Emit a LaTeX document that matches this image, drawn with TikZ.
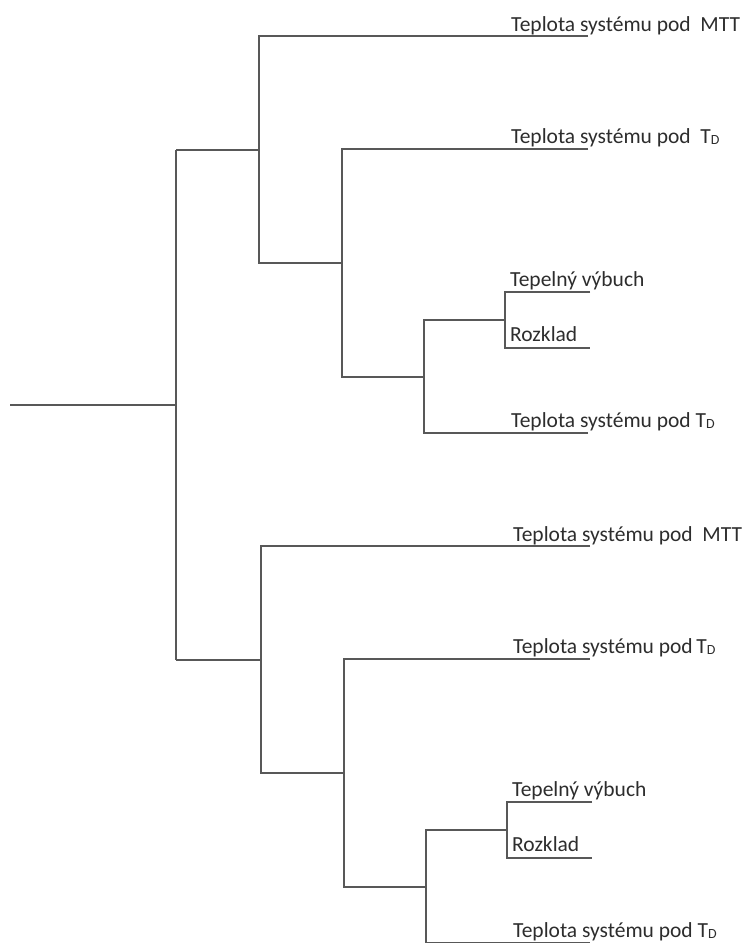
\documentclass[tikz,border=0pt]{standalone}
\usepackage{fontspec}
\setmainfont{Carlito}
\usepackage{xcolor}
\definecolor{branchgray}{RGB}{88, 88, 88}
\definecolor{labelgray}{RGB}{45, 45, 45}
\usetikzlibrary{positioning}

\tikzset{
    branch/.style={line width=1.8pt, branchgray},
    leaf/.style={anchor=base west, inner sep=0pt, text=labelgray, font=\fontsize{21.5}{24}\selectfont},
}
\newcommand{\tempD}{T\raisebox{-1pt}{\fontsize{14}{14}\selectfont D}}

\begin{document}
\begin{tikzpicture}[x=1pt, y=-1pt]
    \useasboundingbox (0,0) rectangle (742,943);
    \coordinate (root) at (10,405);
    \coordinate (spine) at (176,405);
    \foreach \h/\dx/\dy/\sp in {up/0/0/{\ \ }, down/2/510/{\,}}{
        \begin{scope}[shift={(\dx,\dy)}]
            \coordinate (\h-in) at (176-\dx,150);
            \coordinate (\h-n1) at (259,263);
            \coordinate (\h-n2) at (342,377);
            \coordinate (\h-n3) at (424,320);
            \coordinate (\h-n4) at (505,348);
            \coordinate (\h-e1) at (588,36);
            \coordinate (\h-e2) at (588,149);
            \coordinate (\h-e3) at (588,433);
            \coordinate (\h-e4) at (590,292);
            \coordinate (\h-e5) at (590,348);
            \draw[branch] (\h-in) -- (\h-in -| \h-n1);
            \draw[branch] (\h-e1) -| (\h-n1) -- (\h-n1 -| \h-n2);
            \draw[branch] (\h-e2) -| (\h-n2) -- (\h-n2 -| \h-n3);
            \draw[branch] (\h-e3) -| (\h-n3) -- (\h-n3 -| \h-n4);
            \draw[branch] (\h-e4) -| (\h-n4) -- (\h-e5);
            \node[leaf] (\h-l1) at (511,31) {Teplota systému pod\ \ MTT};
            \node[leaf] (\h-l2) at (511,143) {Teplota systému pod\sp\tempD};
            \node[leaf] (\h-l3) at (510,286) {Tepelný výbuch};
            \node[leaf] (\h-l4) at (510,341) {Rozklad};
            \node[leaf] (\h-l5) at (511,427) {Teplota systému pod \tempD};
        \end{scope}
    }
    \draw[branch] (root) -- (spine);
    \draw[branch] (up-in) -- (down-in);
\end{tikzpicture}
\end{document}
